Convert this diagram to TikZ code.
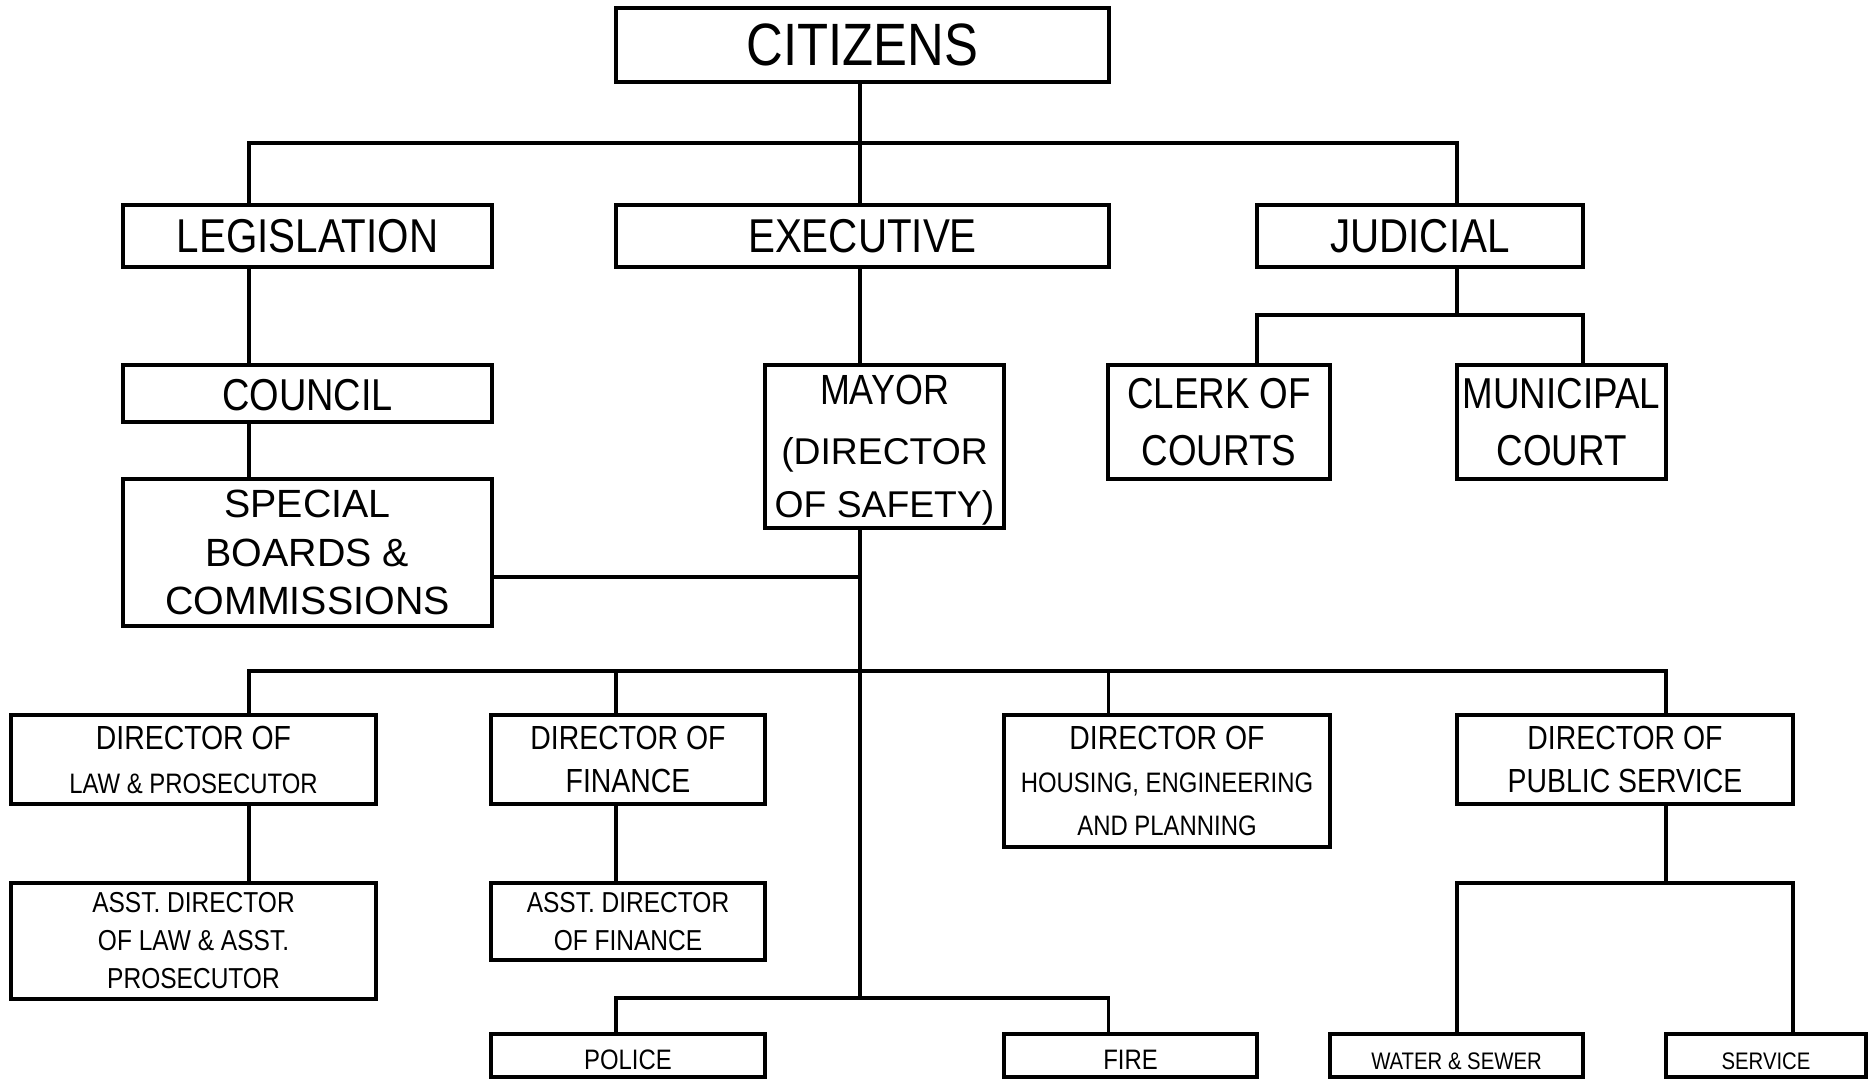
\documentclass[tikz,border=0pt]{standalone}
\usepackage{fontspec}
\setmainfont{Liberation Sans}
\newfontfamily\narrowfont[FakeStretch=0.85]{Liberation Sans}
\usetikzlibrary{positioning}
\newcommand{\nsize}[2]{\narrowfont\fontsize{#1}{#2}\selectfont}
\newcommand{\wsize}[2]{\normalfont\fontsize{#1}{#2}\selectfont}

\begin{document}
\begin{tikzpicture}[x=0.01cm, y=-0.01cm,
		box/.style={draw, line width=1.1pt, inner sep=0pt, align=center},
		link/.style={line width=0.9pt}]
		\useasboundingbox (0,0) rectangle (1872,1078);

		% branches
		\node[box, minimum width=4.93cm, minimum height=0.74cm, font=\nsize{17}{20}] (citizens) at (862.5,45) {CITIZENS};
		\node[box, minimum width=3.69cm, minimum height=0.62cm, font=\nsize{13.5}{16}] (legislation) at (307.5,236) {LEGISLATION};
		\node[box, minimum width=4.93cm, minimum height=0.62cm, font=\nsize{13.5}{16}] (executive) at (862.5,236) {EXECUTIVE};
		\node[box, minimum width=3.26cm, minimum height=0.62cm, font=\nsize{13.5}{16}] (judicial) at (1420,236) {JUDICIAL};

		\node[box, minimum width=3.69cm, minimum height=0.57cm, font=\nsize{12.7}{15}, text height=9.8pt, text depth=0pt] (council) at (307.5,393.5) {COUNCIL};
		\node[box, minimum width=3.69cm, minimum height=1.47cm, font=\wsize{11.2}{13.8}] (special) at (307.5,552.5) {SPECIAL\\BOARDS \&\\COMMISSIONS};
		\node[box, minimum width=2.39cm, minimum height=1.63cm, font=\wsize{10.6}{15}, text depth=-1pt] (mayor) at (884.5,446.5) {{\nsize{12}{15}MAYOR}\\[2pt](DIRECTOR\\OF SAFETY)};
		\node[box, minimum width=2.22cm, minimum height=1.14cm, font=\nsize{12.3}{16.2}] (clerk) at (1219,422) {CLERK OF\\COURTS};
		\node[box, minimum width=2.09cm, minimum height=1.14cm, font=\nsize{12.3}{16.2}] (municipal) at (1561.5,422) {MUNICIPAL\\COURT};

		% directors
		\node[box, minimum width=3.65cm, minimum height=0.89cm, font=\nsize{9.5}{12.5}] (dirlaw) at (193.5,759.5) {DIRECTOR OF\\{\nsize{8}{12.5}LAW \& PROSECUTOR}};
		\node[box, minimum width=2.74cm, minimum height=0.89cm, font=\nsize{9.5}{12.5}] (dirfin) at (628,759.5) {DIRECTOR OF\\FINANCE};
		\node[box, minimum width=3.26cm, minimum height=1.32cm, font=\nsize{9.5}{12.3}] (dirhouse) at (1167,781) {DIRECTOR OF\\{\nsize{8}{12.3}HOUSING, ENGINEERING}\\{\nsize{8}{12.3}AND PLANNING}};
		\node[box, minimum width=3.36cm, minimum height=0.89cm, font=\nsize{9.5}{12.5}] (dirpub) at (1625,759.5) {DIRECTOR OF\\PUBLIC SERVICE};

		\node[box, minimum width=3.65cm, minimum height=1.16cm, font=\nsize{8.2}{10.8}] (asstlaw) at (193.5,941) {ASST. DIRECTOR\\OF LAW \& ASST.\\PROSECUTOR};
		\node[box, minimum width=2.74cm, minimum height=0.77cm, font=\nsize{8.2}{10.8}] (asstfin) at (628,921.5) {ASST. DIRECTOR\\OF FINANCE};

		% departments
		\node[box, minimum width=2.74cm, minimum height=0.43cm, font=\nsize{8}{10}, text height=7.8pt, text depth=0pt] (police) at (628,1055.5) {POLICE};
		\node[box, minimum width=2.53cm, minimum height=0.43cm, font=\nsize{8}{10}, text height=7.8pt, text depth=0pt] (fire) at (1130.5,1055.5) {FIRE};
		\node[box, minimum width=2.53cm, minimum height=0.43cm, font=\nsize{6.8}{9}, text height=8pt, text depth=0pt] (water) at (1456.5,1055.5) {WATER \& SEWER};
		\node[box, minimum width=2.00cm, minimum height=0.43cm, font=\nsize{6.8}{9}, text height=8pt, text depth=0pt] (service) at (1766,1055.5) {SERVICE};

		% bus joints
		\coordinate (bus top) at (860,143);
		\coordinate (bus mid) at (860,671);
		\coordinate (bus low) at (860,998);
		\coordinate (jud fork) at (1457,315);
		\coordinate (pub fork) at (1666,883);

		\draw[link] (citizens.south -| bus top) -- (executive.north -| bus top);
		\draw[link] (legislation.north -| 249,0) |- (bus top) -| (judicial.north -| 1457,0);
		\draw[link] (legislation.south -| 249,0) -- (council.north -| 249,0);
		\draw[link] (council.south -| 249,0) -- (special.north -| 249,0);
		\draw[link] (executive.south -| bus top) -- (mayor.north -| bus top);
		\draw[link] (judicial.south -| jud fork) -- (jud fork);
		\draw[link] (clerk.north -| 1257,0) |- (jud fork) -| (municipal.north -| 1583,0);

		\draw[link] (mayor.south -| bus top) -- (bus low);
		\draw[link] (special.east |- 0,577) -- (bus top |- 0,577);
		\draw[link] (dirlaw.north -| 249,0) |- (bus mid) -| (dirpub.north -| 1666,0);
		\draw[link] (dirfin.north -| 616,0) -- (bus mid -| 616,0);
		\draw[link] (dirhouse.north -| 1108.5,0) -- (bus mid -| 1108.5,0);
		\draw[link] (dirlaw.south -| 249,0) -- (asstlaw.north -| 249,0);
		\draw[link] (dirfin.south -| 616,0) -- (asstfin.north -| 616,0);
		\draw[link] (police.north -| 616,0) |- (bus low) -| (fire.north -| 1108.5,0);
		\draw[link] (dirpub.south -| pub fork) -- (pub fork);
		\draw[link] (water.north -| 1457,0) |- (pub fork) -| (service.north -| 1793,0);
	\end{tikzpicture}
\end{document}
